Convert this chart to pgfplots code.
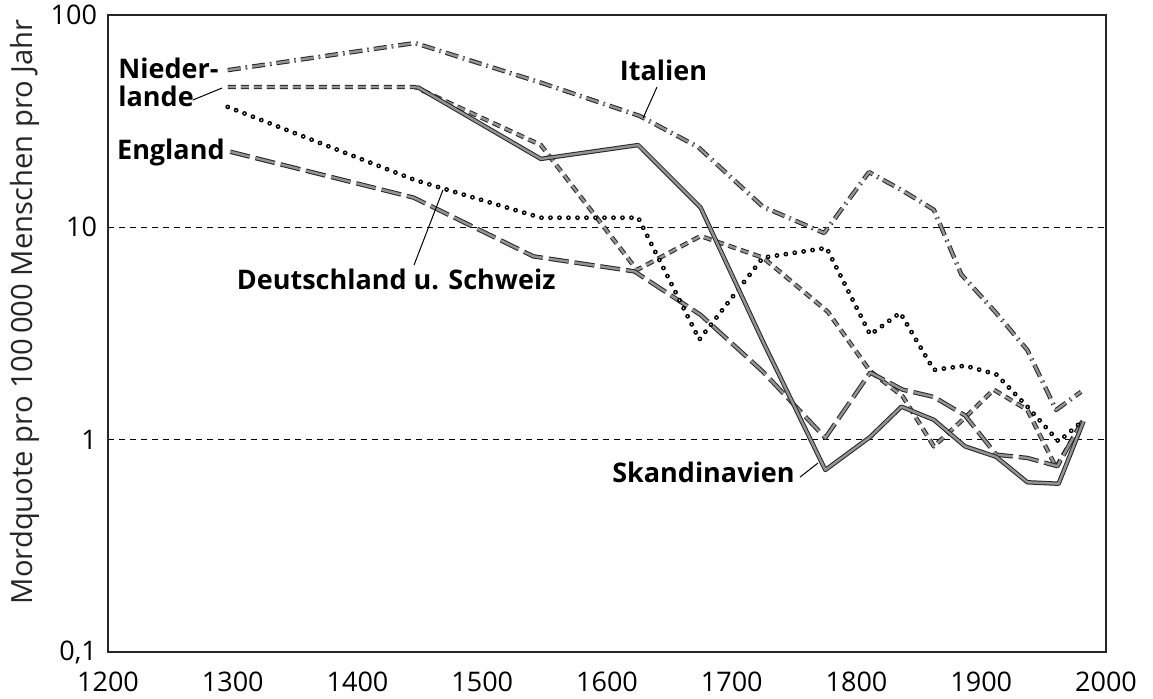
\documentclass[border=0pt]{standalone}
\usepackage{fontspec}
\setmainfont{Open Sans}
\usepackage{pgfplots}
\pgfplotsset{compat=1.18}
\newcommand\lbl{\fontsize{13.5}{15}\selectfont\bfseries}
\tikzset{
  ser/.style={draw=black!85, line width=0.5pt, double=black!42, double distance=1.2pt, line join=round},
  dots/.style={draw=black, line width=0.8pt, double=white, double distance=0.8pt, line cap=round, dash pattern=on 0pt off 4.5pt},
}
\begin{document}
\begin{tikzpicture}
\useasboundingbox (-54pt,-23.5pt) rectangle (522.5pt,326pt);
\begin{axis}[
  at={(0,0)}, anchor=south west,
  scale only axis, width=499pt, height=318.5pt,
  xmin=1200, xmax=2000, ymin=0.1, ymax=100, ymode=log,
  xtick={1200,1300,1400,1500,1600,1700,1800,1900,2000},
  xticklabels={1200,1300,1400,1500,1600,1700,1800,1900,2000},
  ytick={1,10}, yticklabels={1,10},
  extra y ticks={0.1,100}, extra y tick labels={{0,1},100},
  extra y tick style={grid=none},
  yminorticks=false, minor y tick num=0,
  major tick length=0pt,
  ymajorgrids, grid style={black, line width=0.5pt, dash pattern=on 3pt off 2.5pt},
  axis line style={line width=0.8pt, black!85},
  tick label style={font=\fontsize{13.5}{15}\selectfont},
  xticklabel style={yshift=-6.5pt},
  yticklabel style={xshift=-2pt},
  ylabel={Mordquote pro 100\,000 Menschen pro Jahr},
  ylabel style={at={(axis description cs:-0.083,0.534)}, anchor=center, font=\fontsize{14.6}{16}\selectfont, black!85},
  clip=false,
]
% Italien
\addplot[ser, dash pattern=on 6.5pt off 2.5pt on 0.8pt off 2.5pt] coordinates {
(1296,55) (1446,73.8) (1547,48) (1626,33.5) (1673,23.9) (1725,12.5) (1774,9.4)
(1810,18.2) (1836,15) (1862,12.1) (1884,6.0) (1912,3.95) (1937,2.64) (1960,1.38) (1980,1.68)};
% Niederlande
\addplot[ser, dash pattern=on 4pt off 2.5pt] coordinates {
(1296,45.8) (1446,45.8) (1547,24.4) (1624,6.3) (1675,9.1) (1725,7.2) (1777,4.0)
(1811,2.1) (1837,1.6) (1862,0.93) (1887,1.27) (1910,1.72) (1937,1.38) (1960,0.74) (1981,1.22)};
% England
\addplot[ser, dash pattern=on 10pt off 3pt] coordinates {
(1298,22.7) (1445,13.8) (1541,7.3) (1622,6.2) (1675,3.87) (1725,2.09) (1775,1.02)
(1811,2.07) (1837,1.72) (1862,1.59) (1887,1.3) (1912,0.85) (1937,0.82) (1961,0.75) (1981,1.22)};
% Deutschland u. Schweiz
\addplot[dots] coordinates {
(1296,36.9) (1446,16.7) (1547,11.1) (1625,11.1) (1674,2.96) (1725,7.2) (1776,8.0)
(1811,3.12) (1835,3.96) (1862,2.13) (1887,2.23) (1912,2.03) (1937,1.43) (1962,0.98) (1981,1.22)};
% Skandinavien
\addplot[ser] coordinates {
(1448,45.8) (1547,21) (1625,24.4) (1675,12.4) (1725,2.9) (1775,0.72)
(1811,1.03) (1836,1.43) (1862,1.24) (1887,0.93) (1912,0.83) (1937,0.63) (1962,0.62) (1982,1.22)};

\node[anchor=west, inner sep=0pt, font=\lbl] at (axis cs:1208,56.2) {Nieder-};
\node[anchor=west, inner sep=0pt, font=\lbl] at (axis cs:1208,41.5) {lande};
\node[anchor=west, inner sep=0pt, font=\lbl] at (axis cs:1207,22.6) {England};
\node[anchor=west, inner sep=0pt, font=\lbl] at (axis cs:1610,55.1) {Italien};
\node[anchor=west, inner sep=0pt, font=\lbl] at (axis cs:1303,5.71) {Deutschland u. Schweiz};
\node[anchor=east, inner sep=0pt, font=\lbl] at (axis cs:1750.7,0.704) {Skandinavien};
\draw[line width=0.5pt] (axis cs:1268.1,39.8) -- (axis cs:1291.4,45.3);
\draw[line width=0.5pt] (axis cs:1640.1,45.8) -- (axis cs:1628.9,32.7);
\draw[line width=0.5pt] (axis cs:1445.3,6.64) -- (axis cs:1468.5,14.99);
\draw[line width=0.5pt] (axis cs:1754.7,0.666) -- (axis cs:1769.1,0.776);
\end{axis}
\end{tikzpicture}
\end{document}
